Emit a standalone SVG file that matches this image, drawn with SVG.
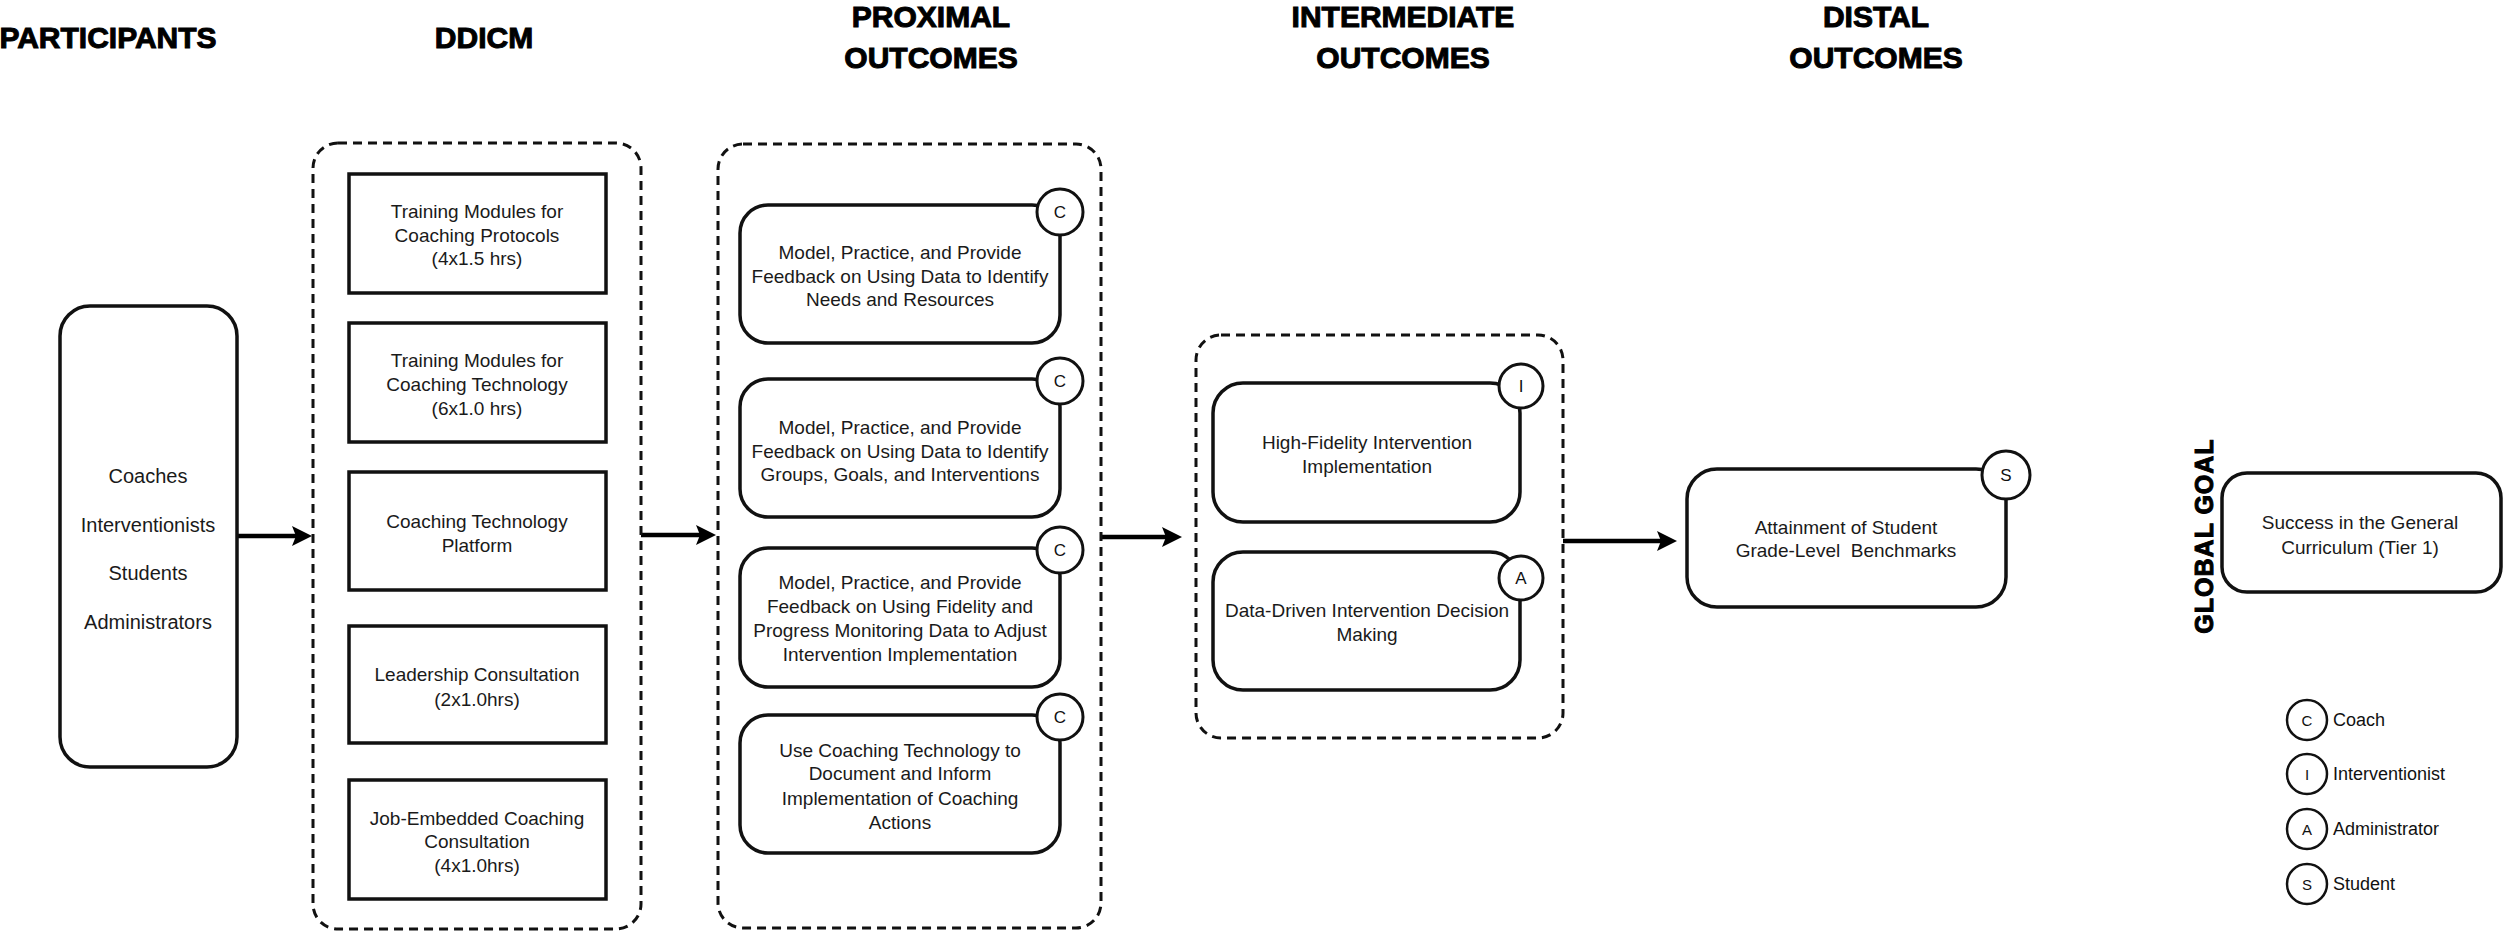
<svg xmlns="http://www.w3.org/2000/svg" width="2503" height="933" viewBox="0 0 2503 933">
<style>
.hdr{font-family:"Liberation Sans",Arial,sans-serif;font-weight:bold;font-size:30px;fill:#000;stroke:#000;stroke-width:1;text-anchor:middle}
.t{font-family:"Liberation Sans",Arial,sans-serif;font-size:19px;fill:#1a1a1a;text-anchor:middle}
.tp{font-size:20px}
.box{fill:#fff;stroke:#111;stroke-width:3.5}
.rbox{fill:#fff;stroke:#111;stroke-width:3.5}
.cont{fill:none;stroke:#111;stroke-width:3;stroke-dasharray:9 6}
.badge{fill:#fff;stroke:#111;stroke-width:3}
.bl{font-family:"Liberation Sans",Arial,sans-serif;font-size:17px;fill:#111;text-anchor:middle}
.leg{fill:#fff;stroke:#111;stroke-width:2.5}
.lt{font-family:"Liberation Sans",Arial,sans-serif;font-size:18px;fill:#111}
.conn{stroke:#000;stroke-width:4.5;fill:none;marker-end:url(#ah)}
</style>
<defs>
<marker id="ah" markerUnits="userSpaceOnUse" markerWidth="22" markerHeight="22" refX="8" refY="10" orient="auto">
<path d="M0,0 L20,10 L0,20 L4,10 Z" fill="#000"/>
</marker>
</defs>
<rect width="2503" height="933" fill="#fff"/>

<g id="headers">
<text class="hdr" x="108" y="48">PARTICIPANTS</text>
<text class="hdr" x="484" y="48">DDICM</text>
<text class="hdr" x="931" y="27">PROXIMAL</text>
<text class="hdr" x="931" y="68">OUTCOMES</text>
<text class="hdr" x="1403" y="27">INTERMEDIATE</text>
<text class="hdr" x="1403" y="68">OUTCOMES</text>
<text class="hdr" x="1876" y="27">DISTAL</text>
<text class="hdr" x="1876" y="68">OUTCOMES</text>
</g>

<g id="connectors">
<line class="conn" x1="237" y1="536" x2="300" y2="536"/>
<line class="conn" x1="641" y1="535" x2="704" y2="535"/>
<line class="conn" x1="1101" y1="537" x2="1170" y2="537"/>
<line class="conn" x1="1563" y1="541" x2="1665" y2="541"/>
</g>

<g id="participants">
<rect class="rbox" x="60" y="306" width="177" height="461" rx="30"/>
<text class="t tp" x="148" y="483">Coaches</text>
<text class="t tp" x="148" y="532">Interventionists</text>
<text class="t tp" x="148" y="580">Students</text>
<text class="t tp" x="148" y="629">Administrators</text>
</g>

<g id="ddicm">
<rect class="cont" x="313" y="143" width="328" height="786" rx="25"/>
<g id="d1">
<rect class="box" x="349" y="174" width="257" height="119"/>
<text class="t" x="477" y="218">Training Modules for</text>
<text class="t" x="477" y="242">Coaching Protocols</text>
<text class="t" x="477" y="265">(4x1.5 hrs)</text>
</g>
<g id="d2">
<rect class="box" x="349" y="323" width="257" height="119"/>
<text class="t" x="477" y="367">Training Modules for</text>
<text class="t" x="477" y="391">Coaching Technology</text>
<text class="t" x="477" y="415">(6x1.0 hrs)</text>
</g>
<g id="d3">
<rect class="box" x="349" y="472" width="257" height="118"/>
<text class="t" x="477" y="528">Coaching Technology</text>
<text class="t" x="477" y="552">Platform</text>
</g>
<g id="d4">
<rect class="box" x="349" y="626" width="257" height="117"/>
<text class="t" x="477" y="681">Leadership Consultation</text>
<text class="t" x="477" y="706">(2x1.0hrs)</text>
</g>
<g id="d5">
<rect class="box" x="349" y="780" width="257" height="119"/>
<text class="t" x="477" y="825">Job-Embedded Coaching</text>
<text class="t" x="477" y="848">Consultation</text>
<text class="t" x="477" y="872">(4x1.0hrs)</text>
</g>
</g>

<g id="proximal">
<rect class="cont" x="718" y="144" width="383" height="784" rx="25"/>
<g id="p1">
<rect class="rbox" x="740" y="205" width="320" height="138" rx="28"/>
<circle class="badge" cx="1060" cy="212" r="23"/>
<text class="bl" x="1060" y="218">C</text>
<text class="t" x="900" y="259">Model, Practice, and Provide</text>
<text class="t" x="900" y="283">Feedback on Using Data to Identify</text>
<text class="t" x="900" y="306">Needs and Resources</text>
</g>
<g id="p2">
<rect class="rbox" x="740" y="379" width="320" height="138" rx="28"/>
<circle class="badge" cx="1060" cy="381" r="23"/>
<text class="bl" x="1060" y="387">C</text>
<text class="t" x="900" y="434">Model, Practice, and Provide</text>
<text class="t" x="900" y="458">Feedback on Using Data to Identify</text>
<text class="t" x="900" y="481">Groups, Goals, and Interventions</text>
</g>
<g id="p3">
<rect class="rbox" x="740" y="548" width="320" height="139" rx="28"/>
<circle class="badge" cx="1060" cy="550" r="23"/>
<text class="bl" x="1060" y="556">C</text>
<text class="t" x="900" y="589">Model, Practice, and Provide</text>
<text class="t" x="900" y="613">Feedback on Using Fidelity and</text>
<text class="t" x="900" y="637">Progress Monitoring Data to Adjust</text>
<text class="t" x="900" y="661">Intervention Implementation</text>
</g>
<g id="p4">
<rect class="rbox" x="740" y="715" width="320" height="138" rx="28"/>
<circle class="badge" cx="1060" cy="717" r="23"/>
<text class="bl" x="1060" y="723">C</text>
<text class="t" x="900" y="757">Use Coaching Technology to</text>
<text class="t" x="900" y="780">Document and Inform</text>
<text class="t" x="900" y="805">Implementation of Coaching</text>
<text class="t" x="900" y="829">Actions</text>
</g>
</g>

<g id="intermediate">
<rect class="cont" x="1196" y="335" width="367" height="403" rx="25"/>
<g id="i1">
<rect class="rbox" x="1213" y="383" width="307" height="139" rx="30"/>
<circle class="badge" cx="1521" cy="386" r="22"/>
<text class="bl" x="1521" y="392">I</text>
<text class="t" x="1367" y="449">High-Fidelity Intervention</text>
<text class="t" x="1367" y="473">Implementation</text>
</g>
<g id="i2">
<rect class="rbox" x="1213" y="552" width="307" height="138" rx="30"/>
<circle class="badge" cx="1521" cy="578" r="22"/>
<text class="bl" x="1521" y="584">A</text>
<text class="t" x="1367" y="617">Data-Driven Intervention Decision</text>
<text class="t" x="1367" y="641">Making</text>
</g>
</g>

<g id="distal">
<rect class="rbox" x="1687" y="469" width="319" height="138" rx="30"/>
<circle class="badge" cx="2006" cy="475" r="24"/>
<text class="bl" x="2006" y="481">S</text>
<text class="t" x="1846" y="534">Attainment of Student</text>
<text class="t" x="1846" y="557" style="white-space:pre">Grade-Level  Benchmarks</text>
</g>

<g id="global-goal">
<text class="hdr" transform="translate(2213,536) rotate(-90)" style="font-size:25px;letter-spacing:1px">GLOBAL GOAL</text>
<rect class="rbox" x="2222" y="473" width="279" height="119" rx="25"/>
<text class="t" x="2360" y="529">Success in the General</text>
<text class="t" x="2360" y="554">Curriculum (Tier 1)</text>
</g>

<g id="legend">
<circle class="leg" cx="2307" cy="720" r="20"/>
<text class="bl" x="2307" y="726" style="font-size:15px">C</text>
<text class="lt" x="2333" y="726">Coach</text>
<circle class="leg" cx="2307" cy="774" r="20"/>
<text class="bl" x="2307" y="780" style="font-size:15px">I</text>
<text class="lt" x="2333" y="780">Interventionist</text>
<circle class="leg" cx="2307" cy="829" r="20"/>
<text class="bl" x="2307" y="835" style="font-size:15px">A</text>
<text class="lt" x="2333" y="835">Administrator</text>
<circle class="leg" cx="2307" cy="884" r="20"/>
<text class="bl" x="2307" y="890" style="font-size:15px">S</text>
<text class="lt" x="2333" y="890">Student</text>
</g>
</svg>
